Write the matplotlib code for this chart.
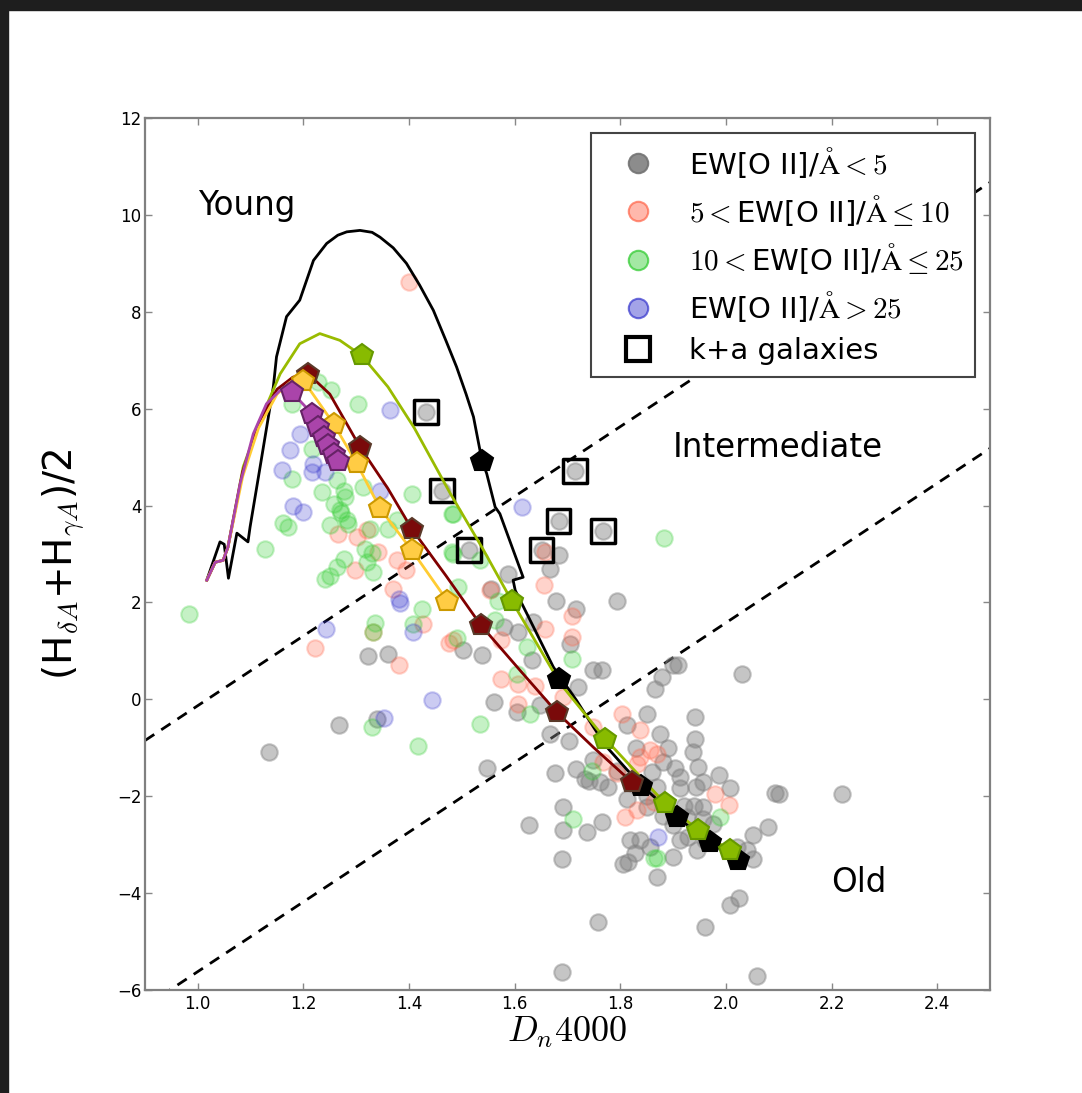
import matplotlib
matplotlib.use("Agg")
import matplotlib.pyplot as plt
from matplotlib.patches import Rectangle
from matplotlib.lines import Line2D
import numpy as np

plt.rcParams['mathtext.fontset'] = 'cm'
plt.rcParams['font.family'] = ['DejaVu Sans']

# ---------------- data ----------------
gray_x = [1.323, 1.361, 1.268, 1.34, 1.135,
          1.683, 1.666, 1.588, 1.556, 1.679, 1.793, 1.716, 1.635, 1.579, 1.607, 1.705, 1.503, 1.538,
          1.632, 1.749, 1.765, 1.72, 1.878, 1.866, 1.90, 1.91, 2.03, 1.56, 1.604, 1.648, 1.85, 1.941,
          1.812, 1.941, 1.875, 1.702, 1.667,
          1.432, 1.462, 1.513, 1.651, 1.683, 1.714, 1.767,
          1.938, 1.793, 1.717, 1.676, 1.749, 1.733, 1.74, 1.762, 1.777, 1.904, 1.913, 1.948, 1.986,
          1.957, 1.943, 1.913, 2.008, 2.093, 2.10, 2.219, 1.812, 1.85, 1.957, 1.94, 1.926, 1.957,
          1.976, 2.052, 2.08, 1.692, 1.765, 1.692, 1.736, 1.818, 1.837, 1.856, 1.913, 1.929, 1.945,
          2.02, 2.039, 2.052, 1.828, 1.806, 1.815, 1.9, 1.869, 1.689, 1.758, 1.96, 2.008, 2.025,
          1.689, 2.059, 1.547, 1.627,
          1.86, 1.88, 1.89, 1.83, 1.87, 1.85, 1.88, 1.90, 1.92, 1.96]
gray_y = [0.89, 0.94, -0.54, -0.4, -1.09,
          2.97, 2.7, 2.59, 2.28, 2.04, 2.04, 1.87, 1.6, 1.49, 1.39, 1.15, 1.01, 0.91,
          0.81, 0.6, 0.6, 0.25, 0.46, 0.22, 0.70, 0.70, 0.53, -0.06, -0.26, -0.12, -0.3, -0.37,
          -0.54, -0.81, -0.71, -0.85, -0.71,
          5.93, 4.31, 3.08, 3.08, 3.68, 4.71, 3.47,
          -1.09, -1.47, -1.43, -1.53, -1.26, -1.64, -1.68, -1.71, -1.81, -1.42, -1.6, -1.4, -1.57,
          -1.71, -1.81, -1.84, -1.84, -1.94, -1.96, -1.95, -2.05, -2.22, -2.22, -2.2, -2.43, -2.46,
          -2.57, -2.81, -2.64, -2.22, -2.53, -2.7, -2.74, -2.91, -2.91, -3.05, -2.91, -2.84, -3.12,
          -3.05, -3.12, -3.29, -3.18, -3.39, -3.35, -3.26, -3.67, -3.29, -4.6, -4.7, -4.25, -4.11,
          -5.63, -5.72, -1.42, -2.6,
          -1.5, -1.3, -1.0, -1.0, -1.8, -2.0, -2.4, -2.6, -2.2, -2.9]

red_x = [1.399, 1.222, 1.38, 1.332, 1.426, 1.476, 1.266, 1.301, 1.32, 1.342, 1.377, 1.298, 1.395,
         1.37, 1.657, 1.656, 1.553, 1.708, 1.708, 1.657, 1.575, 1.575, 1.607, 1.638, 1.607, 1.803,
         1.837, 1.692, 1.484, 1.749, 1.856, 1.869, 1.837, 1.831, 1.768, 1.793, 1.979, 2.005, 1.831,
         1.809, 1.863]
red_y = [8.62, 1.06, 0.70, 1.39, 1.55, 1.16, 3.42, 3.35, 3.49, 3.04, 2.87, 2.66, 2.66,
         2.28, 3.04, 2.35, 2.25, 1.71, 1.29, 1.46, 1.22, 0.43, 0.32, 0.27, -0.09, -0.3,
         -0.64, 0.05, 1.22, -0.57, -1.05, -1.12, -1.19, -1.33, -1.29, -1.53, -1.95, -2.19, -2.29,
         -2.43, -2.12]

green_x = [0.984, 1.336, 1.332, 1.424, 1.408, 1.329, 1.416, 1.253, 1.228, 1.304, 1.178, 1.216, 1.178,
           1.263, 1.276, 1.235, 1.279, 1.313, 1.405, 1.481, 1.257, 1.269, 1.272, 1.25, 1.282, 1.285,
           1.162, 1.171, 1.127, 1.326, 1.361, 1.377, 1.317, 1.33, 1.276, 1.32, 1.263, 1.241, 1.332,
           1.25, 1.481, 1.493, 1.883, 1.534, 1.49, 1.563, 1.623, 1.708, 1.604, 1.629, 1.534, 1.569,
           1.746, 1.711, 1.989, 1.863, 1.87, 1.483, 1.483]
green_y = [1.77, 1.58, 1.39, 1.87, 1.56, -0.57, -0.97, 6.38, 6.55, 6.1, 6.1, 5.17, 4.55,
           4.52, 4.31, 4.28, 4.18, 4.38, 4.24, 3.83, 4.04, 3.9, 3.85, 3.59, 3.7, 3.62,
           3.63, 3.56, 3.11, 3.52, 3.52, 3.7, 3.11, 3.02, 2.9, 2.83, 2.73, 2.49, 2.63,
           2.55, 3.04, 2.32, 3.32, 2.87, 1.27, 1.63, 1.08, 0.84, 0.53, -0.3, -0.5, 2.04,
           -1.47, -2.46, -2.43, -3.27, -3.27, 3.0, 3.83]

blue_x = [1.243, 1.382, 1.407, 1.444, 1.353, 1.363, 1.193, 1.175, 1.219, 1.216, 1.159, 1.241, 1.345,
          1.181, 1.199, 1.38, 1.613, 1.872]
blue_y = [1.46, 1.98, 1.39, -0.01, -0.38, 5.97, 5.48, 5.14, 4.86, 4.69, 4.73, 4.69, 4.31,
          4.0, 3.87, 2.08, 3.97, -2.84]

ka_x = [1.432, 1.462, 1.513, 1.651, 1.683, 1.714, 1.767]
ka_y = [5.93, 4.31, 3.08, 3.08, 3.68, 4.71, 3.47]

# model tracks
blk_x = [1.017, 1.042, 1.050, 1.058, 1.074, 1.095, 1.099, 1.118, 1.143, 1.149, 1.168, 1.193, 1.219,
         1.244, 1.265, 1.282, 1.307, 1.33, 1.345, 1.37, 1.395, 1.42, 1.446, 1.47, 1.490, 1.508,
         1.522, 1.538, 1.547, 1.563, 1.572, 1.616,
         1.597, 1.601, 1.623, 1.648, 1.673, 1.686, 1.717, 1.749, 1.774, 1.81, 1.84, 1.907, 1.97, 2.023]
blk_y = [2.46, 3.25, 3.2, 2.5, 3.43, 3.25, 3.56, 4.8, 6.45, 7.07, 7.9, 8.24, 9.06,
         9.41, 9.58, 9.65, 9.68, 9.64, 9.54, 9.32, 9.0, 8.55, 8.03, 7.4, 6.86, 6.3,
         5.83, 4.93, 4.66, 3.97, 3.83, 2.52,
         2.46, 2.25, 1.77, 1.22, 0.67, 0.46, -0.02, -0.57, -0.98, -1.42, -1.78, -2.43, -2.95, -3.32]
blk_px = [1.538, 1.683, 1.84, 1.907, 1.97, 2.023]
blk_py = [4.93, 0.42, -1.78, -2.43, -2.95, -3.32]

grn_x = [1.017, 1.033, 1.048, 1.057, 1.086, 1.118, 1.156, 1.193, 1.231, 1.269, 1.31, 1.36, 1.41,
         1.478, 1.54, 1.594, 1.686, 1.771, 1.885, 1.948, 2.008]
grn_y = [2.46, 2.83, 2.87, 3.14, 4.8, 5.76, 6.72, 7.34, 7.55, 7.41, 7.1, 6.45, 5.6,
         4.25, 3.1, 2.04, 0.33, -0.81, -2.15, -2.7, -3.12]
grn_px = [1.31, 1.594, 1.771, 1.885, 1.948, 2.008]
grn_py = [7.1, 2.04, -0.81, -2.15, -2.7, -3.12]

mar_x = [1.017, 1.033, 1.048, 1.057, 1.085, 1.115, 1.15, 1.18, 1.209, 1.25, 1.307, 1.36, 1.405,
         1.47, 1.536, 1.61, 1.68, 1.75, 1.822]
mar_y = [2.46, 2.83, 2.87, 3.14, 4.7, 5.7, 6.4, 6.65, 6.72, 6.3, 5.21, 4.35, 3.52,
         2.55, 1.53, 0.6, -0.27, -1.0, -1.71]
mar_px = [1.209, 1.307, 1.405, 1.536, 1.68, 1.822]
mar_py = [6.72, 5.21, 3.52, 1.53, -0.27, -1.71]

yel_x = [1.017, 1.033, 1.048, 1.057, 1.085, 1.115, 1.15, 1.175, 1.2, 1.257, 1.301, 1.345, 1.405, 1.472]
yel_y = [2.46, 2.83, 2.87, 3.14, 4.6, 5.6, 6.3, 6.55, 6.58, 5.69, 4.87, 3.94, 3.08, 2.04]
yel_px = [1.2, 1.257, 1.301, 1.345, 1.405, 1.472]
yel_py = [6.58, 5.69, 4.87, 3.94, 3.08, 2.04]

pur_x = [1.017, 1.033, 1.048, 1.057, 1.08, 1.105, 1.13, 1.156, 1.178, 1.216, 1.228, 1.238, 1.247,
         1.257, 1.266]
pur_y = [2.46, 2.83, 2.87, 3.14, 4.45, 5.48, 6.1, 6.38, 6.34, 5.9, 5.62, 5.41, 5.24, 5.07, 4.93]
pur_px = pur_x[8:]
pur_py = pur_y[8:]

# dividing lines: y = slope*(x - x0) + y0
div_slope = 7.2
div1 = (0.9, -0.85)
div2 = (0.9, -6.34)

labels = [r'EW[O II]/$\mathrm{\AA}<5$', r'$5<$EW[O II]/$\mathrm{\AA}\leq10$',
          r'$10<$EW[O II]/$\mathrm{\AA}\leq25$', r'EW[O II]/$\mathrm{\AA}>25$', 'k+a galaxies']

# ---------------- figure ----------------
W, H = 1082, 1093
fig = plt.figure(figsize=(W / 100, H / 100), dpi=100)
fig.patches.append(Rectangle((0, 1 - 10 / H), 1, 10 / H, transform=fig.transFigure,
                             color='#1e1e1e', zorder=-10))
fig.patches.append(Rectangle((0, 0), 8 / W, 1, transform=fig.transFigure,
                             color='#1e1e1e', zorder=-10))

ax = fig.add_axes([145 / W, 1 - 990 / H, 845 / W, 872 / H])
ax.set_xlim(0.9, 2.5)
ax.set_ylim(-6, 12)

xx = np.array([0.9, 2.5])
for x0, y0 in (div1, div2):
    ax.plot(xx, div_slope * (xx - x0) + y0, ls=(0, (4, 3)), color='black', lw=2, zorder=1)

sc_kw = dict(s=140, linewidths=1.5, zorder=3)
ax.scatter(gray_x, gray_y, color='gray', alpha=0.45, **sc_kw)
ax.scatter(red_x, red_y, color='tomato', alpha=0.28, **sc_kw)
ax.scatter(green_x, green_y, color='limegreen', alpha=0.28, **sc_kw)
ax.scatter(blue_x, blue_y, color='#3333cc', alpha=0.25, **sc_kw)
ax.scatter(ka_x, ka_y, marker='s', s=290, facecolor='none', edgecolor='black', linewidths=2.5, zorder=4)

tracks = [
    (blk_x, blk_y, blk_px, blk_py, 'black', 'black', 'black'),
    (grn_x, grn_y, grn_px, grn_py, '#99bb00', '#88bb00', '#669900'),
    (mar_x, mar_y, mar_px, mar_py, '#800000', '#7a0a0a', '#5a3a2a'),
    (yel_x, yel_y, yel_px, yel_py, '#ffcc33', '#ffcc44', '#cc9900'),
    (pur_x, pur_y, pur_px, pur_py, '#aa44aa', '#aa44aa', '#662266'),
]
for tx, ty, px, py, lc, fc, ec in tracks:
    ax.plot(tx, ty, '-', color=lc, lw=2, zorder=5)
for tx, ty, px, py, lc, fc, ec in tracks:
    ax.plot(px, py, 'p', ms=16, mfc=fc, mec=ec, mew=1.5, zorder=6)

ax.text(1.0, 10.2, 'Young', fontsize=23.5, va='center', ha='left')
ax.text(1.9, 5.2, 'Intermediate', fontsize=23.5, va='center', ha='left')
ax.text(2.2, -3.78, 'Old', fontsize=23.5, va='center', ha='left')

ax.set_xticks([1.0, 1.2, 1.4, 1.6, 1.8, 2.0, 2.2, 2.4])
ax.set_yticks([-6, -4, -2, 0, 2, 4, 6, 8, 10, 12])
ax.tick_params(direction='in', length=5, width=1, color='#888888', labelsize=12,
               top=True, right=True)
ax.tick_params(axis='x', pad=3.5)
ax.tick_params(axis='y', pad=2.5)
for sp in ax.spines.values():
    sp.set_color('#808080')
    sp.set_linewidth(1.6)

ax.set_xlabel(r'$D_n4000$', fontsize=26)
ax.xaxis.set_label_coords(0.5, -0.0596, transform=ax.transAxes)
ax.xaxis.label.set_va('baseline')
ax.set_ylabel(r'(H$_{\delta A}$+H$_{\gamma A}$)/2', fontsize=28)
ax.yaxis.set_label_coords(-0.096, 0.488, transform=ax.transAxes)
ax.yaxis.label.set_va('center')

handles = [
    Line2D([], [], ls='none', marker='o', ms=14, mfc=(0.5, 0.5, 0.5, 0.9), mec=(0.45, 0.45, 0.45, 0.9), mew=1.5),
    Line2D([], [], ls='none', marker='o', ms=14, mfc=(1.0, 0.39, 0.28, 0.45), mec=(1.0, 0.39, 0.28, 0.7), mew=1.5),
    Line2D([], [], ls='none', marker='o', ms=14, mfc=(0.2, 0.8, 0.2, 0.45), mec=(0.2, 0.8, 0.2, 0.75), mew=1.5),
    Line2D([], [], ls='none', marker='o', ms=14, mfc=(0.2, 0.2, 0.8, 0.45), mec=(0.2, 0.2, 0.8, 0.7), mew=1.5),
    Line2D([], [], ls='none', marker='s', ms=17, mfc='none', mec='black', mew=3),
]
leg = ax.legend(handles, labels, loc='upper right', fontsize=21, frameon=True, fancybox=False,
                framealpha=1, borderpad=0.4, labelspacing=0.45, handletextpad=0.5,
                handlelength=2.45, borderaxespad=0.51)
leg.get_frame().set_edgecolor('#444444')
leg.get_frame().set_linewidth(1.5)

fig.savefig('out.png', dpi=100, facecolor='white')
